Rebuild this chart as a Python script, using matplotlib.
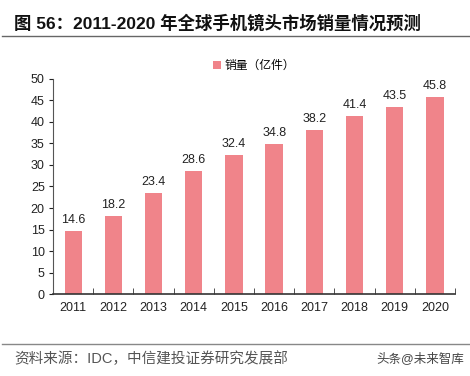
import matplotlib
matplotlib.use("Agg")
import matplotlib.pyplot as plt
import numpy as np

plt.rcParams['font.family'] = ['Liberation Sans', 'Noto Sans CJK SC', 'DejaVu Sans']

years = ['2011', '2012', '2013', '2014', '2015', '2016', '2017', '2018', '2019', '2020']
sales = [14.6, 18.2, 23.4, 28.6, 32.4, 34.8, 38.2, 41.4, 43.5, 45.8]
yticks = list(range(0, 51, 5))

fig = plt.figure(figsize=(4.7, 3.76), dpi=100)
ax = fig.add_axes([0.113, 0.218, 0.855, 0.572])

x = np.arange(len(years))
bars = ax.bar(x, sales, width=0.43, color='#F0848A', label='销量（亿件）', zorder=2)
for xi, v in zip(x, sales):
    ax.text(xi, v + 1.2, f'{v}', ha='center', va='bottom', fontsize=9, color='#222222')

ax.set_xlim(-0.5, len(years) - 0.5)
ax.set_ylim(0, 50)
ax.set_yticks(yticks)
ax.set_xticks(x)
ax.set_xticklabels(years)
ax.set_xticks(np.arange(-0.5, len(years), 1), minor=True)
ax.tick_params(axis='x', which='major', length=0, labelsize=9, pad=6, colors='#222222')
ax.tick_params(axis='x', which='minor', direction='in', length=4, color='#333333')
ax.tick_params(axis='y', length=3, labelsize=9, colors='#222222', pad=3)
for s in ['top', 'right']:
    ax.spines[s].set_visible(False)
ax.spines['left'].set_color('#555555')
ax.spines['bottom'].set_color('#333333')
ax.spines['bottom'].set_linewidth(1.2)

ax.legend(loc='lower center', bbox_to_anchor=(0.5, 1.0), borderaxespad=0.2, frameon=False,
          fontsize=8.5, handlelength=0.7, handleheight=0.7, handletextpad=0.3)

fig.text(0.03, 0.94, '图 56：2011-2020 年全球手机镜头市场销量情况预测',
         fontsize=12.5, fontweight='bold', color='#111111', va='center')
fig.add_artist(plt.Line2D([0.005, 1.0], [0.905, 0.905], color='#666666', lw=1.0))
fig.add_artist(plt.Line2D([0.005, 1.0], [0.085, 0.085], color='#888888', lw=1.0))
fig.text(0.03, 0.045, '资料来源：IDC，中信建投证券研究发展部',
         fontsize=10.5, color='#555555', va='center')
fig.text(0.8, 0.045, '头条@未来智库', fontsize=9, color='#444444', va='center')

fig.savefig('out.png', dpi=100, facecolor='white')
